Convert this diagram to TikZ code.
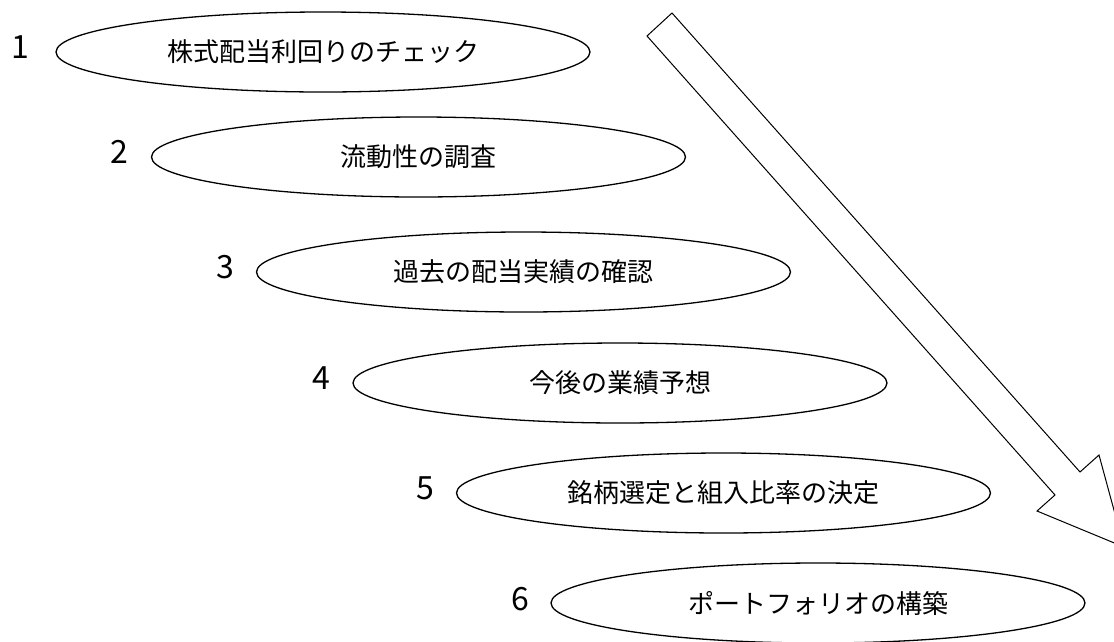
\documentclass[tikz,border=0pt]{standalone}
\usepackage{fontspec}
\newfontfamily\jp{Noto Sans CJK JP}
\usetikzlibrary{shapes.geometric}
\begin{document}
\begin{tikzpicture}[x=1pt,y=-1pt,
  stage/.style={draw, ellipse, line width=1.3pt, minimum width=534pt, minimum height=80pt, inner sep=0pt, font=\jp\fontsize{26}{30}\selectfont},
  num/.style={font=\jp\fontsize{32}{36}\selectfont, inner sep=0pt},
  bigarrow/.style={draw, line width=1pt, line join=miter}]
\useasboundingbox (0,0) rectangle (1114,641);
\begin{scope}
\clip (0,0) rectangle (1114,641);
\draw[bigarrow] (672,13) -- (1080,472) -- (1099,455) -- (1124,547) -- (1037,511) -- (1055,495) -- (647,36) -- cycle;
\end{scope}
\node[stage] (s1) at (323,52) {株式配当利回りのチェック};
\node[stage] (s2) at (418.5,157) {流動性の調査};
\node[stage] (s3) at (523.5,272) {過去の配当実績の確認};
\node[stage] (s4) at (620,383) {今後の業績予想};
\node[stage] (s5) at (723.5,493) {銘柄選定と組入比率の決定};
\node[stage] (s6) at (818,603) {ポートフォリオの構築};
\node[num] (n1) at (20,47) {1};
\node[num] (n2) at (119,152) {2};
\node[num] (n3) at (225,267) {3};
\node[num] (n4) at (321,378) {4};
\node[num] (n5) at (425,488) {5};
\node[num] (n6) at (520,599) {6};
\end{tikzpicture}
\end{document}
